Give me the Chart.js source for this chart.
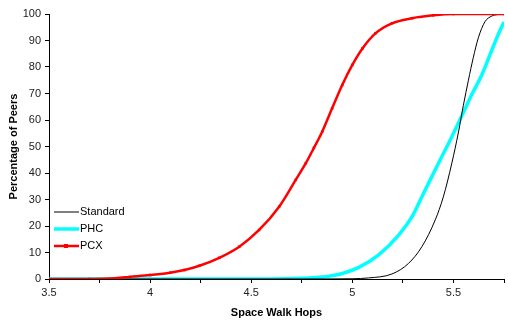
<!DOCTYPE html>
<html>
<head>
<meta charset="utf-8">
<script src="https://cdn.jsdelivr.net/npm/chart.js@4"></script>
<style>
  html, body { margin: 0; padding: 0; background: #fff; }
  #wrap { width: 508px; height: 320px; }
</style>
</head>
<body>
<div id="wrap"><canvas id="hopsPlot" width="508" height="320"></canvas></div>
<script>
// Space walk hops (x) vs cumulative percentage of peers (y)
const standardX = [3.5, 4.75, 5.0, 5.08, 5.196, 5.278, 5.344, 5.41, 5.45, 5.492, 5.525, 5.549, 5.574, 5.598, 5.623, 5.656, 5.689, 5.72, 5.75];
const standardY = [0, 0, 0.1, 0.4, 1.9, 5.9, 12.2, 22.3, 31, 43.7, 55.5, 65.5, 75, 83.5, 91, 97.1, 99.2, 99.8, 100];

const phcX = [3.5, 4.6, 4.75, 4.9, 5.032, 5.13, 5.229, 5.295, 5.344, 5.385, 5.426, 5.492, 5.541, 5.59, 5.64, 5.68, 5.72, 5.75];
const phcY = [0, 0, 0.3, 1.2, 4.4, 9.1, 16.6, 23.5, 31, 37.4, 43.7, 53.7, 61.5, 69.5, 77, 84.5, 92, 97];

const pcxX = [3.5, 3.7, 3.83, 3.9, 4.0, 4.1, 4.17, 4.244, 4.342, 4.441, 4.539, 4.638, 4.72, 4.77, 4.81, 4.851, 4.9, 4.95, 5.0, 5.05, 5.114, 5.196, 5.295, 5.4, 5.5, 5.75];
const pcxY = [0, 0, 0.3, 0.8, 1.5, 2.4, 3.4, 5.0, 8.0, 12.2, 18.5, 27.3, 37.4, 43.7, 49.5, 55.6, 64.4, 73.2, 80.8, 87, 92.7, 96.5, 98.4, 99.5, 100, 100];

const seriesNames = ['Standard', 'PHC', 'PCX'];
const seriesColors = ['#000000', '#00FFFF', '#FF0000'];

const toPoints = (xs, ys) => xs.map((x, i) => ({ x, y: ys[i] }));

// legend drawn inside the plot area, lower left
const insideLegend = {
    id: 'insideLegend',
    afterDraw(chart) {
        const ctx = chart.ctx;
        const rows = [212, 229, 246];
        ctx.save();
        ctx.font = '11px "Liberation Sans", Arial, sans-serif';
        ctx.textBaseline = 'middle';
        ctx.fillStyle = '#000';
        seriesNames.forEach((name, i) => {
            const y = rows[i];
            ctx.strokeStyle = seriesColors[i];
            ctx.lineWidth = i === 0 ? 1 : (i === 1 ? 3.5 : 2.5);
            ctx.beginPath();
            ctx.moveTo(54, y);
            ctx.lineTo(79, y);
            ctx.stroke();
            if (i === 2) {
                ctx.fillStyle = seriesColors[i];
                ctx.fillRect(64, y - 2, 4, 4);
                ctx.fillStyle = '#000';
            }
            ctx.fillText(name, 80, y);
        });
        ctx.restore();
    }
};

const tickFont = { family: '"Liberation Sans", Arial, sans-serif', size: 11 };
const titleFont = { family: '"Liberation Sans", Arial, sans-serif', size: 11, weight: 'bold' };

new Chart(document.getElementById('hopsPlot'), {
    type: 'line',
    data: {
        datasets: [
            {
                label: 'Standard',
                data: toPoints(standardX, standardY),
                borderColor: seriesColors[0],
                borderWidth: 1,
                pointRadius: 0,
                cubicInterpolationMode: 'monotone',
                fill: false,
                order: 1
            },
            {
                label: 'PHC',
                data: toPoints(phcX, phcY),
                borderColor: seriesColors[1],
                borderWidth: 3.5,
                pointRadius: 0,
                cubicInterpolationMode: 'monotone',
                fill: false,
                order: 2
            },
            {
                label: 'PCX',
                data: toPoints(pcxX, pcxY),
                borderColor: seriesColors[2],
                backgroundColor: seriesColors[2],
                borderWidth: 2.5,
                pointStyle: 'rect',
                pointRadius: 1.8,
                pointBorderWidth: 0,
                pointBackgroundColor: seriesColors[2],
                cubicInterpolationMode: 'monotone',
                fill: false,
                order: 0
            }
        ]
    },
    options: {
        responsive: false,
        animation: false,
        layout: { padding: { top: 14, right: 2, left: 0, bottom: 0 } },
        plugins: {
            legend: { display: false },
            tooltip: { enabled: false }
        },
        scales: {
            x: {
                type: 'linear',
                min: 3.5,
                max: 5.75,
                afterFit: s => { s.height = 41; },
                border: { display: true, color: '#000', width: 1 },
                grid: { drawOnChartArea: false, drawTicks: true, tickLength: 4, color: '#000' },
                ticks: {
                    stepSize: 0.25,
                    autoSkip: false,
                    maxRotation: 0,
                    padding: 3,
                    color: '#222',
                    font: tickFont,
                    callback: v => (Math.abs(v * 2 - Math.round(v * 2)) < 1e-6 && v < 5.7) ? v : ''
                },
                title: { display: true, text: 'Space Walk Hops', color: '#000', font: titleFont, padding: { top: 4, bottom: 0 } }
            },
            y: {
                min: 0,
                max: 100,
                afterFit: s => { s.width = 49; },
                border: { display: true, color: '#000', width: 1 },
                grid: { drawOnChartArea: false, drawTicks: true, tickLength: 4, color: '#000' },
                ticks: {
                    stepSize: 10,
                    padding: 4,
                    color: '#222',
                    font: tickFont
                },
                title: { display: true, text: 'Percentage of Peers', color: '#000', font: titleFont, padding: { top: 7, bottom: 0 } }
            }
        }
    },
    plugins: [insideLegend]
});
</script>
</body>
</html>
